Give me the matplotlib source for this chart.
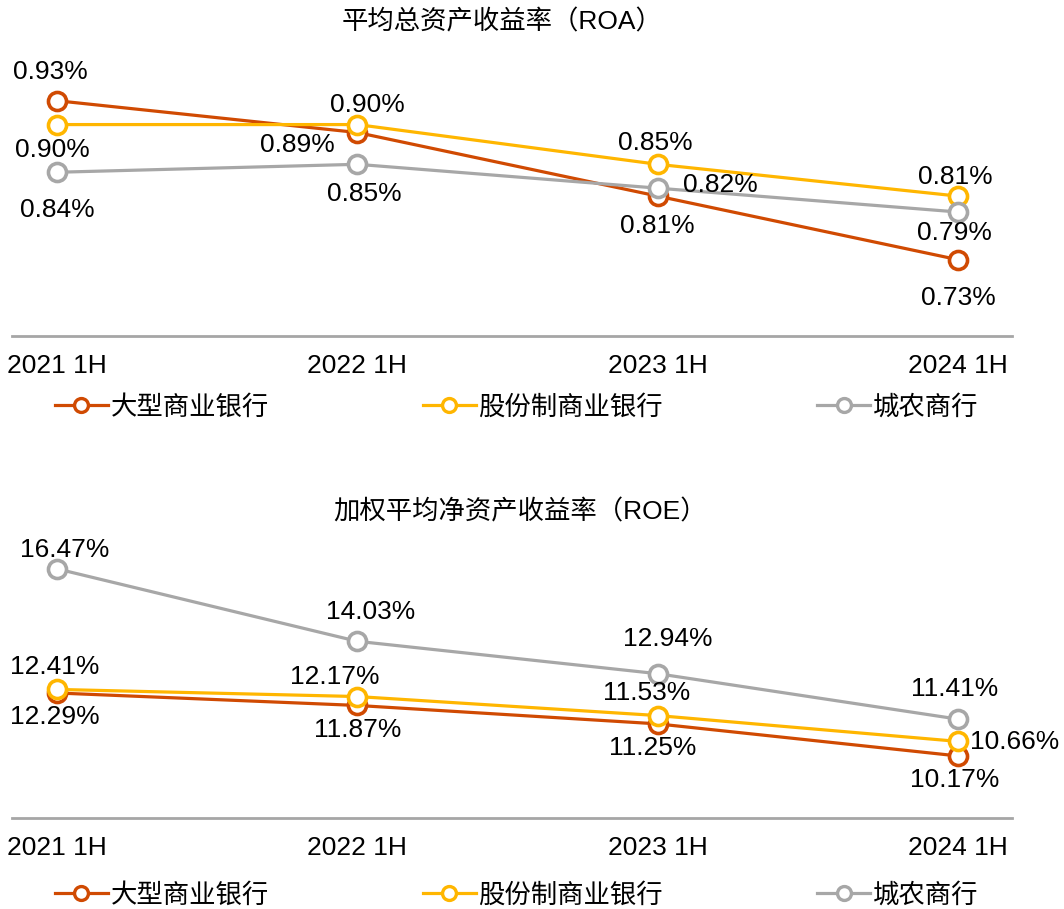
import numpy as np
import matplotlib
matplotlib.use("Agg")
import matplotlib.pyplot as plt
from matplotlib.lines import Line2D

plt.rcParams['font.family'] = ['Liberation Sans', 'Noto Sans CJK SC', 'DejaVu Sans']
plt.rcParams['font.size'] = 19

periods = ["2021 1H", "2022 1H", "2023 1H", "2024 1H"]
series = ["大型商业银行", "股份制商业银行", "城农商行"]
colors = ["#D04A02", "#FFB600", "#A7A7A7"]

roa_big = [0.93, 0.89, 0.81, 0.73]
roa_joint = [0.90, 0.90, 0.85, 0.81]
roa_city = [0.84, 0.85, 0.82, 0.79]

roe_big = [12.29, 11.87, 11.25, 10.17]
roe_joint = [12.41, 12.17, 11.53, 10.66]
roe_city = [16.47, 14.03, 12.94, 11.41]

# label offsets in pixels (dx, dy with dy downwards)
roa_off = [
    [(-7, -29), (-60, 12), (0, 30), (0, 38)],
    [(-5, 25), (10, -20), (-2, -21), (-3, -19)],
    [(0, 38), (7, 30), (63, -3), (-3, 21)],
]
roe_off = [
    [(-2, 24), (0, 25), (-5, 24), (-3, 24)],
    [(-2, -22), (-23, -20), (-11, -23), (57, 1)],
    [(8, -19), (13, -29), (10, -35), (-3, -30)],
]

fig = plt.figure(figsize=(10.64, 9.09), dpi=100)
ax1 = fig.add_axes([0.0113, 0.6304, 0.9398, 0.3025])
ax2 = fig.add_axes([0.0113, 0.1001, 0.9398, 0.3169])

x = np.arange(len(periods))


def draw(ax, data, offsets, ylim):
    for vals, col, offs in zip(data, colors, offsets):
        ax.plot(x, vals, color=col, lw=2.3, marker='o', ms=13,
                mfc='white', mec=col, mew=2.6)
        for xi, v, (dx, dy) in zip(x, vals, offs):
            ax.annotate(f"{v:.2f}%", (xi, v), xytext=(dx, -dy),
                        textcoords='offset pixels', ha='center', va='center',
                        fontsize=19, color='black')
    ax.set_xlim(-0.15, 3.18)
    ax.set_ylim(*ylim)
    ax.set_xticks(x)
    ax.set_xticklabels(periods)
    ax.tick_params(axis='x', length=0, pad=13)
    ax.set_yticks([])
    for s in ['top', 'right', 'left']:
        ax.spines[s].set_visible(False)
    ax.spines['bottom'].set_color('#A6A6A6')
    ax.spines['bottom'].set_linewidth(2)
    ax.patch.set_alpha(0)


draw(ax1, [roa_big, roa_joint, roa_city], roa_off, (0.634, 0.98))
draw(ax2, [roe_big, roe_joint, roe_city], roe_off, (8.08, 17.78))

fig.text(0.472, 1 - 22 / 909, "平均总资产收益率（ROA）", ha='center', va='center', fontsize=19)
fig.text(0.489, 1 - 512 / 909, "加权平均净资产收益率（ROE）", ha='center', va='center', fontsize=19)

handles = [Line2D([], [], color=c, lw=2.3, marker='o', ms=10, mfc='white',
                  mec=c, mew=2.4) for c in colors]
for yc in (407, 895):
    fig.legend(handles, series, loc='center left',
               bbox_to_anchor=(55 / 1064, 1 - yc / 909), ncol=3,
               frameon=False, handlelength=2.0, handletextpad=0.1,
               columnspacing=5.85, borderaxespad=0, borderpad=0, fontsize=19)

fig.savefig("out.png", dpi=100)
